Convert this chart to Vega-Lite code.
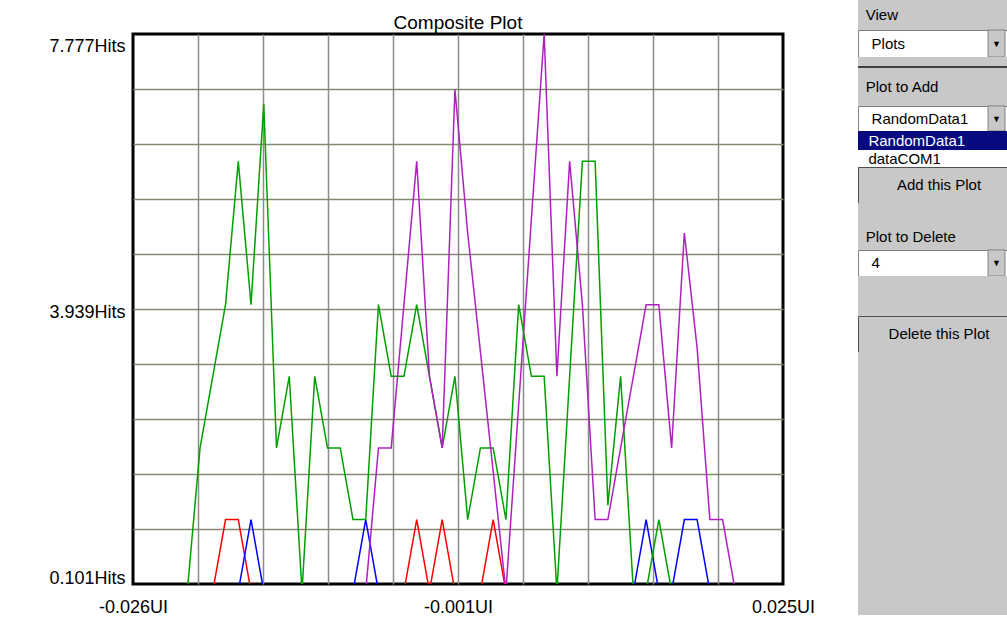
{
  "$schema": "https://vega.github.io/schema/vega-lite/v6.json",
  "background": "white",
  "autosize": {"type": "pad"},
  "padding": {"left": 47, "top": 0, "right": 0, "bottom": 0},
  "spacing": 40,
  "config": {
    "view": {"stroke": null},
    "font": "Liberation Sans",
    "text": {"font": "Liberation Sans", "fontSize": 15, "color": "black"}
  },
  "hconcat": [
    {
      "vconcat": [
        {
          "width": 650,
          "height": 34,
          "view": {"stroke": null},
          "data": {"values": [{}]},
          "mark": {"type": "rect", "fill": "white"},
          "encoding": {}
        },
        {
          "width": 650,
          "height": 550,
          "view": {"stroke": "#000000", "strokeWidth": 3, "fill": "white"},
          "title": {"text": "Composite Plot", "font": "Liberation Sans", "fontSize": 19, "fontWeight": "normal", "color": "black", "anchor": "middle", "frame": "group", "baseline": "alphabetic", "offset": -14},
          "data": {
            "values": [
              {"x": -0.026, "plot1": 0, "plot2": 0, "plot3": 0, "plot4": 0},
              {"x": -0.025, "plot1": 0, "plot2": 0, "plot3": 0, "plot4": 0},
              {"x": -0.024, "plot1": 0, "plot2": 0, "plot3": 0, "plot4": 0},
              {"x": -0.023, "plot1": 0, "plot2": 0, "plot3": 0, "plot4": 0},
              {"x": -0.022, "plot1": 0, "plot2": 0, "plot3": 0, "plot4": 0},
              {"x": -0.021, "plot1": 0, "plot2": 0, "plot3": 2, "plot4": 0},
              {"x": -0.020, "plot1": 0, "plot2": 0, "plot3": 3, "plot4": 0},
              {"x": -0.019, "plot1": 1, "plot2": 0, "plot3": 4, "plot4": 0},
              {"x": -0.018, "plot1": 1, "plot2": 0, "plot3": 6, "plot4": 0},
              {"x": -0.017, "plot1": 0, "plot2": 1, "plot3": 4, "plot4": 0},
              {"x": -0.016, "plot1": 0, "plot2": 0, "plot3": 6.8, "plot4": 0},
              {"x": -0.015, "plot1": 0, "plot2": 0, "plot3": 2, "plot4": 0},
              {"x": -0.014, "plot1": 0, "plot2": 0, "plot3": 3, "plot4": 0},
              {"x": -0.013, "plot1": 0, "plot2": 0, "plot3": 0, "plot4": 0},
              {"x": -0.012, "plot1": 0, "plot2": 0, "plot3": 3, "plot4": 0},
              {"x": -0.011, "plot1": 0, "plot2": 0, "plot3": 2, "plot4": 0},
              {"x": -0.010, "plot1": 0, "plot2": 0, "plot3": 2, "plot4": 0},
              {"x": -0.009, "plot1": 0, "plot2": 0, "plot3": 1, "plot4": 0},
              {"x": -0.008, "plot1": 0, "plot2": 1, "plot3": 1, "plot4": 0},
              {"x": -0.007, "plot1": 0, "plot2": 0, "plot3": 4, "plot4": 2},
              {"x": -0.006, "plot1": 0, "plot2": 0, "plot3": 3, "plot4": 2},
              {"x": -0.005, "plot1": 0, "plot2": 0, "plot3": 3, "plot4": 4},
              {"x": -0.004, "plot1": 1, "plot2": 0, "plot3": 4, "plot4": 6},
              {"x": -0.003, "plot1": 0, "plot2": 0, "plot3": 3, "plot4": 3},
              {"x": -0.002, "plot1": 1, "plot2": 0, "plot3": 2, "plot4": 2},
              {"x": -0.001, "plot1": 0, "plot2": 0, "plot3": 3, "plot4": 7},
              {"x": 0.000, "plot1": 0, "plot2": 0, "plot3": 1, "plot4": 5},
              {"x": 0.001, "plot1": 0, "plot2": 0, "plot3": 2, "plot4": 3.34},
              {"x": 0.002, "plot1": 1, "plot2": 0, "plot3": 2, "plot4": 1.67},
              {"x": 0.003, "plot1": 0, "plot2": 0, "plot3": 1, "plot4": 0},
              {"x": 0.004, "plot1": 0, "plot2": 0, "plot3": 4, "plot4": 2.6},
              {"x": 0.005, "plot1": 0, "plot2": 0, "plot3": 3, "plot4": 5.2},
              {"x": 0.006, "plot1": 0, "plot2": 0, "plot3": 3, "plot4": 7.777},
              {"x": 0.007, "plot1": 0, "plot2": 0, "plot3": 0, "plot4": 3},
              {"x": 0.008, "plot1": 0, "plot2": 0, "plot3": 3, "plot4": 6},
              {"x": 0.009, "plot1": 0, "plot2": 0, "plot3": 6, "plot4": 4},
              {"x": 0.010, "plot1": 0, "plot2": 0, "plot3": 6, "plot4": 1},
              {"x": 0.011, "plot1": 0, "plot2": 0, "plot3": 1.2, "plot4": 1},
              {"x": 0.012, "plot1": 0, "plot2": 0, "plot3": 3, "plot4": 2},
              {"x": 0.013, "plot1": 0, "plot2": 0, "plot3": 0, "plot4": 3},
              {"x": 0.014, "plot1": 0, "plot2": 1, "plot3": 0, "plot4": 4},
              {"x": 0.015, "plot1": 0, "plot2": 0, "plot3": 1, "plot4": 4},
              {"x": 0.016, "plot1": 0, "plot2": 0, "plot3": 0, "plot4": 2},
              {"x": 0.017, "plot1": 0, "plot2": 1, "plot3": 0, "plot4": 5},
              {"x": 0.018, "plot1": 0, "plot2": 1, "plot3": 0, "plot4": 3.4},
              {"x": 0.019, "plot1": 0, "plot2": 0, "plot3": 0, "plot4": 1},
              {"x": 0.020, "plot1": 0, "plot2": 0, "plot3": 0, "plot4": 1},
              {"x": 0.021, "plot1": 0, "plot2": 0, "plot3": 0, "plot4": 0},
              {"x": 0.022, "plot1": 0, "plot2": 0, "plot3": 0, "plot4": 0},
              {"x": 0.023, "plot1": 0, "plot2": 0, "plot3": 0, "plot4": 0},
              {"x": 0.024, "plot1": 0, "plot2": 0, "plot3": 0, "plot4": 0}
            ]
          },
          "transform": [{"fold": ["plot1", "plot2", "plot3", "plot4"], "as": ["plot", "hits"]}],
          "mark": {"type": "line", "clip": true, "strokeWidth": 1.5, "interpolate": "linear"},
          "encoding": {
            "x": {
              "field": "x", "type": "quantitative",
              "scale": {"domain": [-0.02626, 0.02474], "nice": false, "zero": false},
              "axis": {
                "title": null,
                "values": [-0.02626, -0.02116, -0.01606, -0.01096, -0.00586, -0.00076, 0.00434, 0.00944, 0.01454, 0.01964, 0.02474],
                "labelExpr": "datum.index == 0 ? '-0.026UI' : datum.index == 1 ? '0.025UI' : abs(datum.index - 0.5) < 0.001 ? '-0.001UI' : ''",
                "ticks": false, "domain": false,
                "grid": true,
                "gridColor": {"condition": {"test": "datum.index == 0 || datum.index == 1", "value": "transparent"}, "value": "#8c8c8c"},
                "gridWidth": 1.5,
                "labelFont": "Liberation Sans", "labelFontSize": 18, "labelColor": "black",
                "labelPadding": 14, "labelFlush": false, "labelOverlap": false
              }
            },
            "y": {
              "field": "hits", "type": "quantitative",
              "scale": {"domain": [0.101, 7.777], "nice": false, "zero": false},
              "axis": {
                "title": null,
                "values": [0.101, 0.8686, 1.6362, 2.4038, 3.1714, 3.939, 4.7066, 5.4742, 6.2418, 7.0094, 7.777],
                "labelExpr": "datum.index == 0 ? '0.101Hits' : datum.index == 1 ? '7.777Hits' : abs(datum.index - 0.5) < 0.001 ? '3.939Hits' : ''",
                "ticks": false, "domain": false,
                "grid": true,
                "gridColor": {"condition": {"test": "datum.index == 0 || datum.index == 1", "value": "transparent"}, "value": "#8a8674"},
                "gridWidth": 1.5,
                "labelFont": "Liberation Sans", "labelFontSize": 18, "labelColor": "black",
                "labelPadding": 8, "labelFlush": true, "labelOffset": 3, "labelOverlap": false
              }
            },
            "color": {
              "field": "plot", "type": "nominal",
              "scale": {"domain": ["plot1", "plot2", "plot3", "plot4"], "range": ["#ff0000", "#0000ff", "#00a000", "#b020c0"]},
              "legend": null
            }
          }
        }
      ],
      "spacing": 0,
      "bounds": "flush"
    },
    {
      "vconcat": [
        {
          "width": 149, "height": 30,
          "view": {"fill": "#c8c8c8", "stroke": null},
          "data": {"values": [{"t": "View"}]},
          "mark": {"type": "text", "align": "left", "baseline": "middle"},
          "encoding": {"text": {"field": "t"}, "x": {"datum": 0, "type": "quantitative", "scale": {"domain": [-0.055, 1]}, "axis": null}}
        },
        {
          "width": 149, "height": 27,
          "view": {"fill": "white", "stroke": "#808080"},
          "data": {"values": [{"t": "Plots"}]},
          "layer": [
            {"mark": {"type": "text", "align": "left", "baseline": "middle"}, "encoding": {"text": {"field": "t"}, "x": {"datum": 0, "type": "quantitative", "scale": {"domain": [-0.085, 1]}, "axis": null}}},
            {"mark": {"type": "rect", "fill": "#c8c8c8", "stroke": "#808080"}, "encoding": {"x": {"datum": 0.86, "type": "quantitative"}, "x2": {"datum": 0.985}}},
            {"mark": {"type": "text", "text": "▼", "fontSize": 9, "baseline": "middle"}, "encoding": {"x": {"datum": 0.9225, "type": "quantitative"}}}
          ]
        },
        {
          "width": 149, "height": 9,
          "view": {"fill": "#c8c8c8", "stroke": null},
          "data": {"values": [{}]},
          "mark": {"type": "rect", "fill": "#c8c8c8"},
          "encoding": {}
        },
        {
          "width": 149, "height": 2,
          "view": {"fill": "#404040", "stroke": null},
          "data": {"values": [{}]},
          "mark": {"type": "rect", "fill": "#404040"},
          "encoding": {}
        },
        {
          "width": 149, "height": 38,
          "view": {"fill": "#c8c8c8", "stroke": null},
          "data": {"values": [{"t": "Plot to Add"}]},
          "mark": {"type": "text", "align": "left", "baseline": "middle"},
          "encoding": {"text": {"field": "t"}, "x": {"datum": 0, "type": "quantitative", "scale": {"domain": [-0.055, 1]}, "axis": null}}
        },
        {
          "width": 149, "height": 25,
          "view": {"fill": "white", "stroke": "#808080"},
          "data": {"values": [{"t": "RandomData1"}]},
          "layer": [
            {"mark": {"type": "text", "align": "left", "baseline": "middle"}, "encoding": {"text": {"field": "t"}, "x": {"datum": 0, "type": "quantitative", "scale": {"domain": [-0.085, 1]}, "axis": null}}},
            {"mark": {"type": "rect", "fill": "#c8c8c8", "stroke": "#808080"}, "encoding": {"x": {"datum": 0.86, "type": "quantitative"}, "x2": {"datum": 0.985}}},
            {"mark": {"type": "text", "text": "▼", "fontSize": 9, "baseline": "middle"}, "encoding": {"x": {"datum": 0.9225, "type": "quantitative"}}}
          ]
        },
        {
          "width": 149, "height": 19,
          "view": {"fill": "#0a0a80", "stroke": null},
          "data": {"values": [{"t": "RandomData1"}]},
          "mark": {"type": "text", "align": "left", "baseline": "middle", "color": "white"},
          "encoding": {"text": {"field": "t"}, "x": {"datum": 0, "type": "quantitative", "scale": {"domain": [-0.075, 1]}, "axis": null}}
        },
        {
          "width": 149, "height": 17,
          "view": {"fill": "white", "stroke": null},
          "data": {"values": [{"t": "dataCOM1"}]},
          "mark": {"type": "text", "align": "left", "baseline": "middle"},
          "encoding": {"text": {"field": "t"}, "x": {"datum": 0, "type": "quantitative", "scale": {"domain": [-0.075, 1]}, "axis": null}}
        },
        {
          "width": 149, "height": 36,
          "view": {"fill": "#c8c8c8", "stroke": "#505050"},
          "data": {"values": [{"t": "Add this Plot"}]},
          "mark": {"type": "text", "align": "center", "baseline": "middle"},
          "encoding": {"text": {"field": "t"}, "x": {"datum": 0.5, "type": "quantitative", "scale": {"domain": [-0.0955, 1]}, "axis": null}}
        },
        {
          "width": 149, "height": 20,
          "view": {"fill": "#c8c8c8", "stroke": null},
          "data": {"values": [{}]},
          "mark": {"type": "rect", "fill": "#c8c8c8"},
          "encoding": {}
        },
        {
          "width": 149, "height": 27,
          "view": {"fill": "#c8c8c8", "stroke": null},
          "data": {"values": [{"t": "Plot to Delete"}]},
          "mark": {"type": "text", "align": "left", "baseline": "middle"},
          "encoding": {"text": {"field": "t"}, "x": {"datum": 0, "type": "quantitative", "scale": {"domain": [-0.055, 1]}, "axis": null}}
        },
        {
          "width": 149, "height": 26,
          "view": {"fill": "white", "stroke": "#808080"},
          "data": {"values": [{"t": "4"}]},
          "layer": [
            {"mark": {"type": "text", "align": "left", "baseline": "middle"}, "encoding": {"text": {"field": "t"}, "x": {"datum": 0, "type": "quantitative", "scale": {"domain": [-0.085, 1]}, "axis": null}}},
            {"mark": {"type": "rect", "fill": "#c8c8c8", "stroke": "#808080"}, "encoding": {"x": {"datum": 0.86, "type": "quantitative"}, "x2": {"datum": 0.985}}},
            {"mark": {"type": "text", "text": "▼", "fontSize": 9, "baseline": "middle"}, "encoding": {"x": {"datum": 0.9225, "type": "quantitative"}}}
          ]
        },
        {
          "width": 149, "height": 40,
          "view": {"fill": "#c8c8c8", "stroke": null},
          "data": {"values": [{}]},
          "mark": {"type": "rect", "fill": "#c8c8c8"},
          "encoding": {}
        },
        {
          "width": 149, "height": 36,
          "view": {"fill": "#c8c8c8", "stroke": "#505050"},
          "data": {"values": [{"t": "Delete this Plot"}]},
          "mark": {"type": "text", "align": "center", "baseline": "middle"},
          "encoding": {"text": {"field": "t"}, "x": {"datum": 0.5, "type": "quantitative", "scale": {"domain": [-0.0955, 1]}, "axis": null}}
        },
        {
          "width": 149, "height": 263,
          "view": {"fill": "#c8c8c8", "stroke": null},
          "data": {"values": [{}]},
          "mark": {"type": "rect", "fill": "#c8c8c8"},
          "encoding": {}
        }
      ],
      "spacing": 0,
      "bounds": "flush"
    }
  ]
}
